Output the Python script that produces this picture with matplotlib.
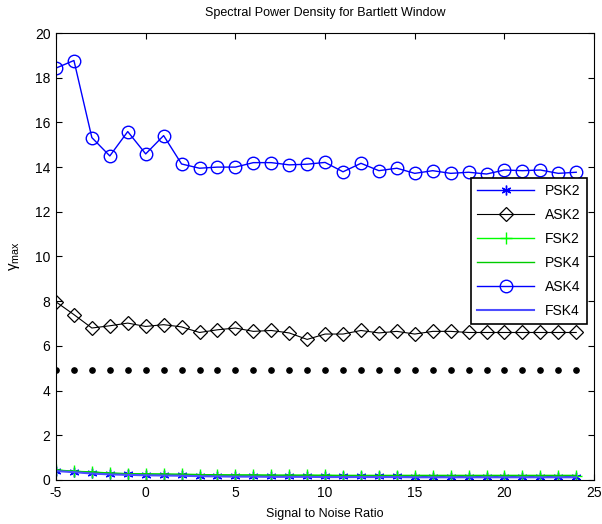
import matplotlib
matplotlib.use('Agg')
import matplotlib.pyplot as plt
import numpy as np

plt.rcParams['font.family'] = ['Liberation Sans', 'DejaVu Sans']
plt.rcParams['mathtext.fontset'] = 'custom'
plt.rcParams['mathtext.rm'] = 'Liberation Sans'
plt.rcParams['mathtext.it'] = 'Liberation Sans'
plt.rcParams['axes.unicode_minus'] = False

# SNR values
snr = np.arange(-5, 25)

ask4 = [18.43, 18.77, 15.32, 14.50, 15.59, 14.59, 15.41, 14.14, 13.95, 14.00,
        14.00, 14.20, 14.20, 14.10, 14.13, 14.21, 13.79, 14.17, 13.84, 13.95,
        13.72, 13.84, 13.72, 13.77, 13.69, 13.87, 13.84, 13.87, 13.72, 13.77]
ask2 = [7.97, 7.40, 6.80, 6.90, 7.02, 6.87, 6.95, 6.85, 6.60, 6.72,
        6.80, 6.65, 6.69, 6.58, 6.29, 6.53, 6.53, 6.69, 6.58, 6.65,
        6.53, 6.65, 6.65, 6.60, 6.60, 6.60, 6.60, 6.60, 6.60, 6.60]
psk2 = [0.42, 0.37, 0.30, 0.26, 0.25, 0.23, 0.22, 0.21, 0.19, 0.19,
        0.18, 0.18, 0.17, 0.17, 0.17, 0.16, 0.16, 0.16, 0.16, 0.16,
        0.15, 0.15, 0.15, 0.15, 0.15, 0.15, 0.15, 0.15, 0.15, 0.15]
fsk2 = [0.45, 0.39, 0.36, 0.31, 0.28, 0.27, 0.26, 0.25, 0.24, 0.23,
        0.22, 0.22, 0.21, 0.21, 0.21, 0.21, 0.20, 0.20, 0.20, 0.20,
        0.20, 0.20, 0.20, 0.20, 0.20, 0.20, 0.20, 0.20, 0.20, 0.20]
psk4 = [0.44, 0.38, 0.35, 0.30, 0.28, 0.27, 0.26, 0.25, 0.24, 0.23,
        0.22, 0.22, 0.21, 0.21, 0.21, 0.20, 0.20, 0.20, 0.20, 0.20,
        0.20, 0.20, 0.20, 0.20, 0.20, 0.20, 0.20, 0.20, 0.20, 0.20]
fsk4 = [0.40, 0.35, 0.29, 0.25, 0.23, 0.21, 0.20, 0.19, 0.17, 0.16,
        0.15, 0.15, 0.14, 0.14, 0.14, 0.13, 0.13, 0.13, 0.13, 0.13,
        0.12, 0.12, 0.12, 0.12, 0.12, 0.12, 0.12, 0.12, 0.12, 0.12]
threshold = [4.92] * len(snr)

fig = plt.figure(figsize=(6.02, 5.24), dpi=100)
ax = fig.add_axes([0.093, 0.084, 0.894, 0.853])

asterisk = (6, 2, 0)
ax.plot(snr, psk2, '-', marker=asterisk, color='blue', lw=1, ms=7, mew=1,
        label='PSK2')
ax.plot(snr, ask2, '-D', color='black', lw=0.8, ms=7.5, mfc='none', mew=0.9,
        label='ASK2')
ax.plot(snr, fsk2, '-+', color='#00ff00', lw=1, ms=9, mew=1, label='FSK2')
ax.plot(snr, psk4, '-', color='#00cc00', lw=1, label='PSK4')
ax.plot(snr, ask4, '-o', color='blue', lw=1, ms=9, mfc='none', mew=1, label='ASK4')
ax.plot(snr, fsk4, '-', color='#4d4dff', lw=1.5, label='FSK4')
ax.plot(snr, threshold, 'o', color='black', ms=3.8, label='_nolegend_')

ax.set_xlim(-5, 25)
ax.set_ylim(0, 20)
ax.set_xticks(np.arange(-5, 26, 5))
ax.set_yticks(np.arange(0, 21, 2))
ax.tick_params(direction='in', top=True, right=True, labelsize=10, length=4,
               pad=4)
for s in ax.spines.values():
    s.set_linewidth(0.8)

ax.set_title('Spectral Power Density for Bartlett Window', fontsize=9, pad=12)
ax.set_xlabel('Signal to Noise Ratio', fontsize=9, labelpad=6)
ax.set_ylabel(r'$\gamma_{max}$', fontsize=11, labelpad=9)

leg = ax.legend(loc='upper right', bbox_to_anchor=(0.987, 0.676), fontsize=10,
                fancybox=False, edgecolor='black', framealpha=1,
                handlelength=4.1, labelspacing=0.72, borderpad=0.45,
                borderaxespad=0)
leg.get_frame().set_linewidth(1.2)

fig.savefig('out.png', dpi=100)
